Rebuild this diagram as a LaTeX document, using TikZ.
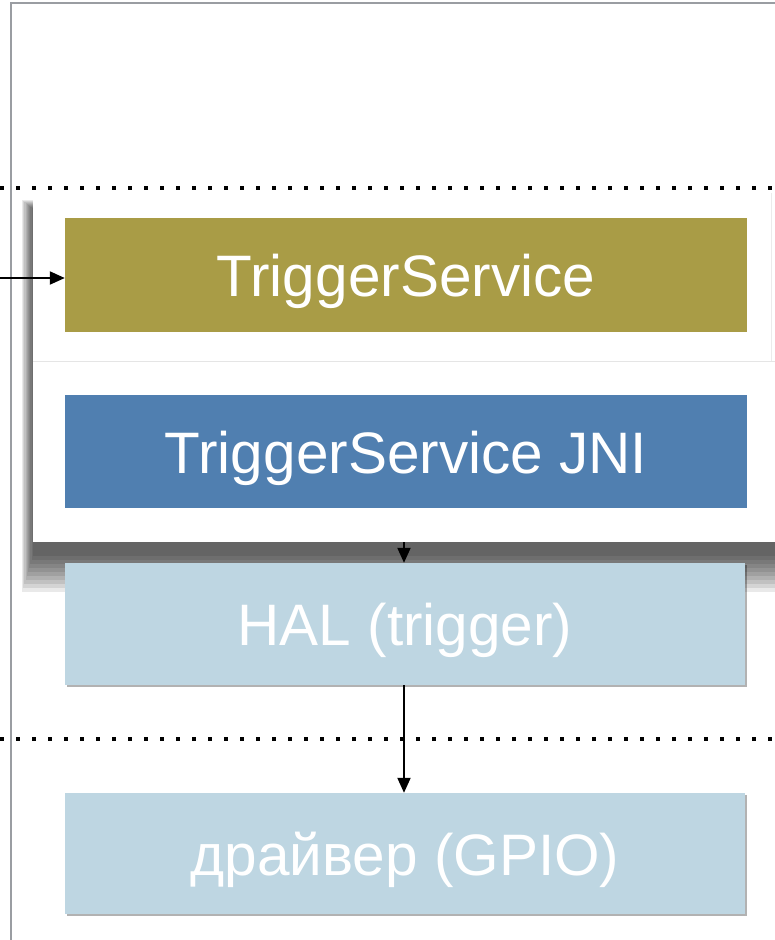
\documentclass[tikz,border=0pt]{standalone}
\usepackage{fontspec}
\setmainfont{Liberation Sans}
\usetikzlibrary{arrows.meta,shadows}

\definecolor{frameGray}{HTML}{9A9DA2}
\definecolor{olive}{HTML}{A99C46}
\definecolor{steel}{HTML}{507FB0}
\definecolor{pale}{HTML}{BED6E2}

\tikzset{
  layer/.style={draw=none, rectangle, text=white, inner sep=0pt,
    text height=43pt, text depth=0pt,
    font=\fontsize{58.5}{60}\selectfont},
  darkbox/.style={layer, minimum width=682pt, minimum height=114pt},
  palebox/.style={layer, fill=pale, minimum width=680pt, minimum height=122pt,
    drop shadow={shadow xshift=1.5pt, shadow yshift=-2pt, opacity=.3, fill=black}},
  boundary/.style={line width=4.2pt, dash pattern=on 4.2pt off 11.8pt},
  link/.style={line width=2pt, -{Triangle[length=15pt,width=13pt]}}
}

\begin{document}
\begin{tikzpicture}[x=1pt, y=-1pt]
  \useasboundingbox (0,0) rectangle (775,940);
  \fill[white] (0,0) rectangle (775,940);

  % outer frame
  \draw[frameGray, line width=2.6pt] (11,942) -- (11,3) -- (780,3);

  % layer boundaries
  \draw[boundary] (0,188) -- (780,188);
  \draw[boundary] (0,739) -- (780,739);

  % soft shadow under the framework panel
  \foreach \k in {0,...,9}
    \fill[black, opacity=.085] (22+1.2*\k, 200+\k) rectangle (790, 592-4*\k);

  % framework panel (two stacked sheets)
  \fill[white] (33,193) rectangle (780,361);
  \fill[white] (33,362) rectangle (780,542);
  \draw[black!10, line width=0.8pt] (33,361.5) -- (780,361.5);
  \draw[black!8, line width=0.8pt] (771,193) -- (771,361);

  % components
  \node[darkbox, fill=olive] (svc) at (406,275) {TriggerService};
  \node[darkbox, fill=steel, minimum height=113pt] (jni) at (406,451.5) {TriggerService JNI};
  \node[palebox] (hal) at (405,624) {HAL (trigger)};
  \node[palebox, minimum height=121pt] (drv) at (405,853.5) {драйвер (GPIO)};

  % connectors
  \coordinate (caller) at (0,278);
  \coordinate (panelfoot) at (404,542);
  \draw[link] (caller) -- (svc.west |- caller);
  \draw[link] (panelfoot) -- (panelfoot |- hal.north);
  \draw[link] (hal.south -| panelfoot) -- (panelfoot |- drv.north);
\end{tikzpicture}
\end{document}
